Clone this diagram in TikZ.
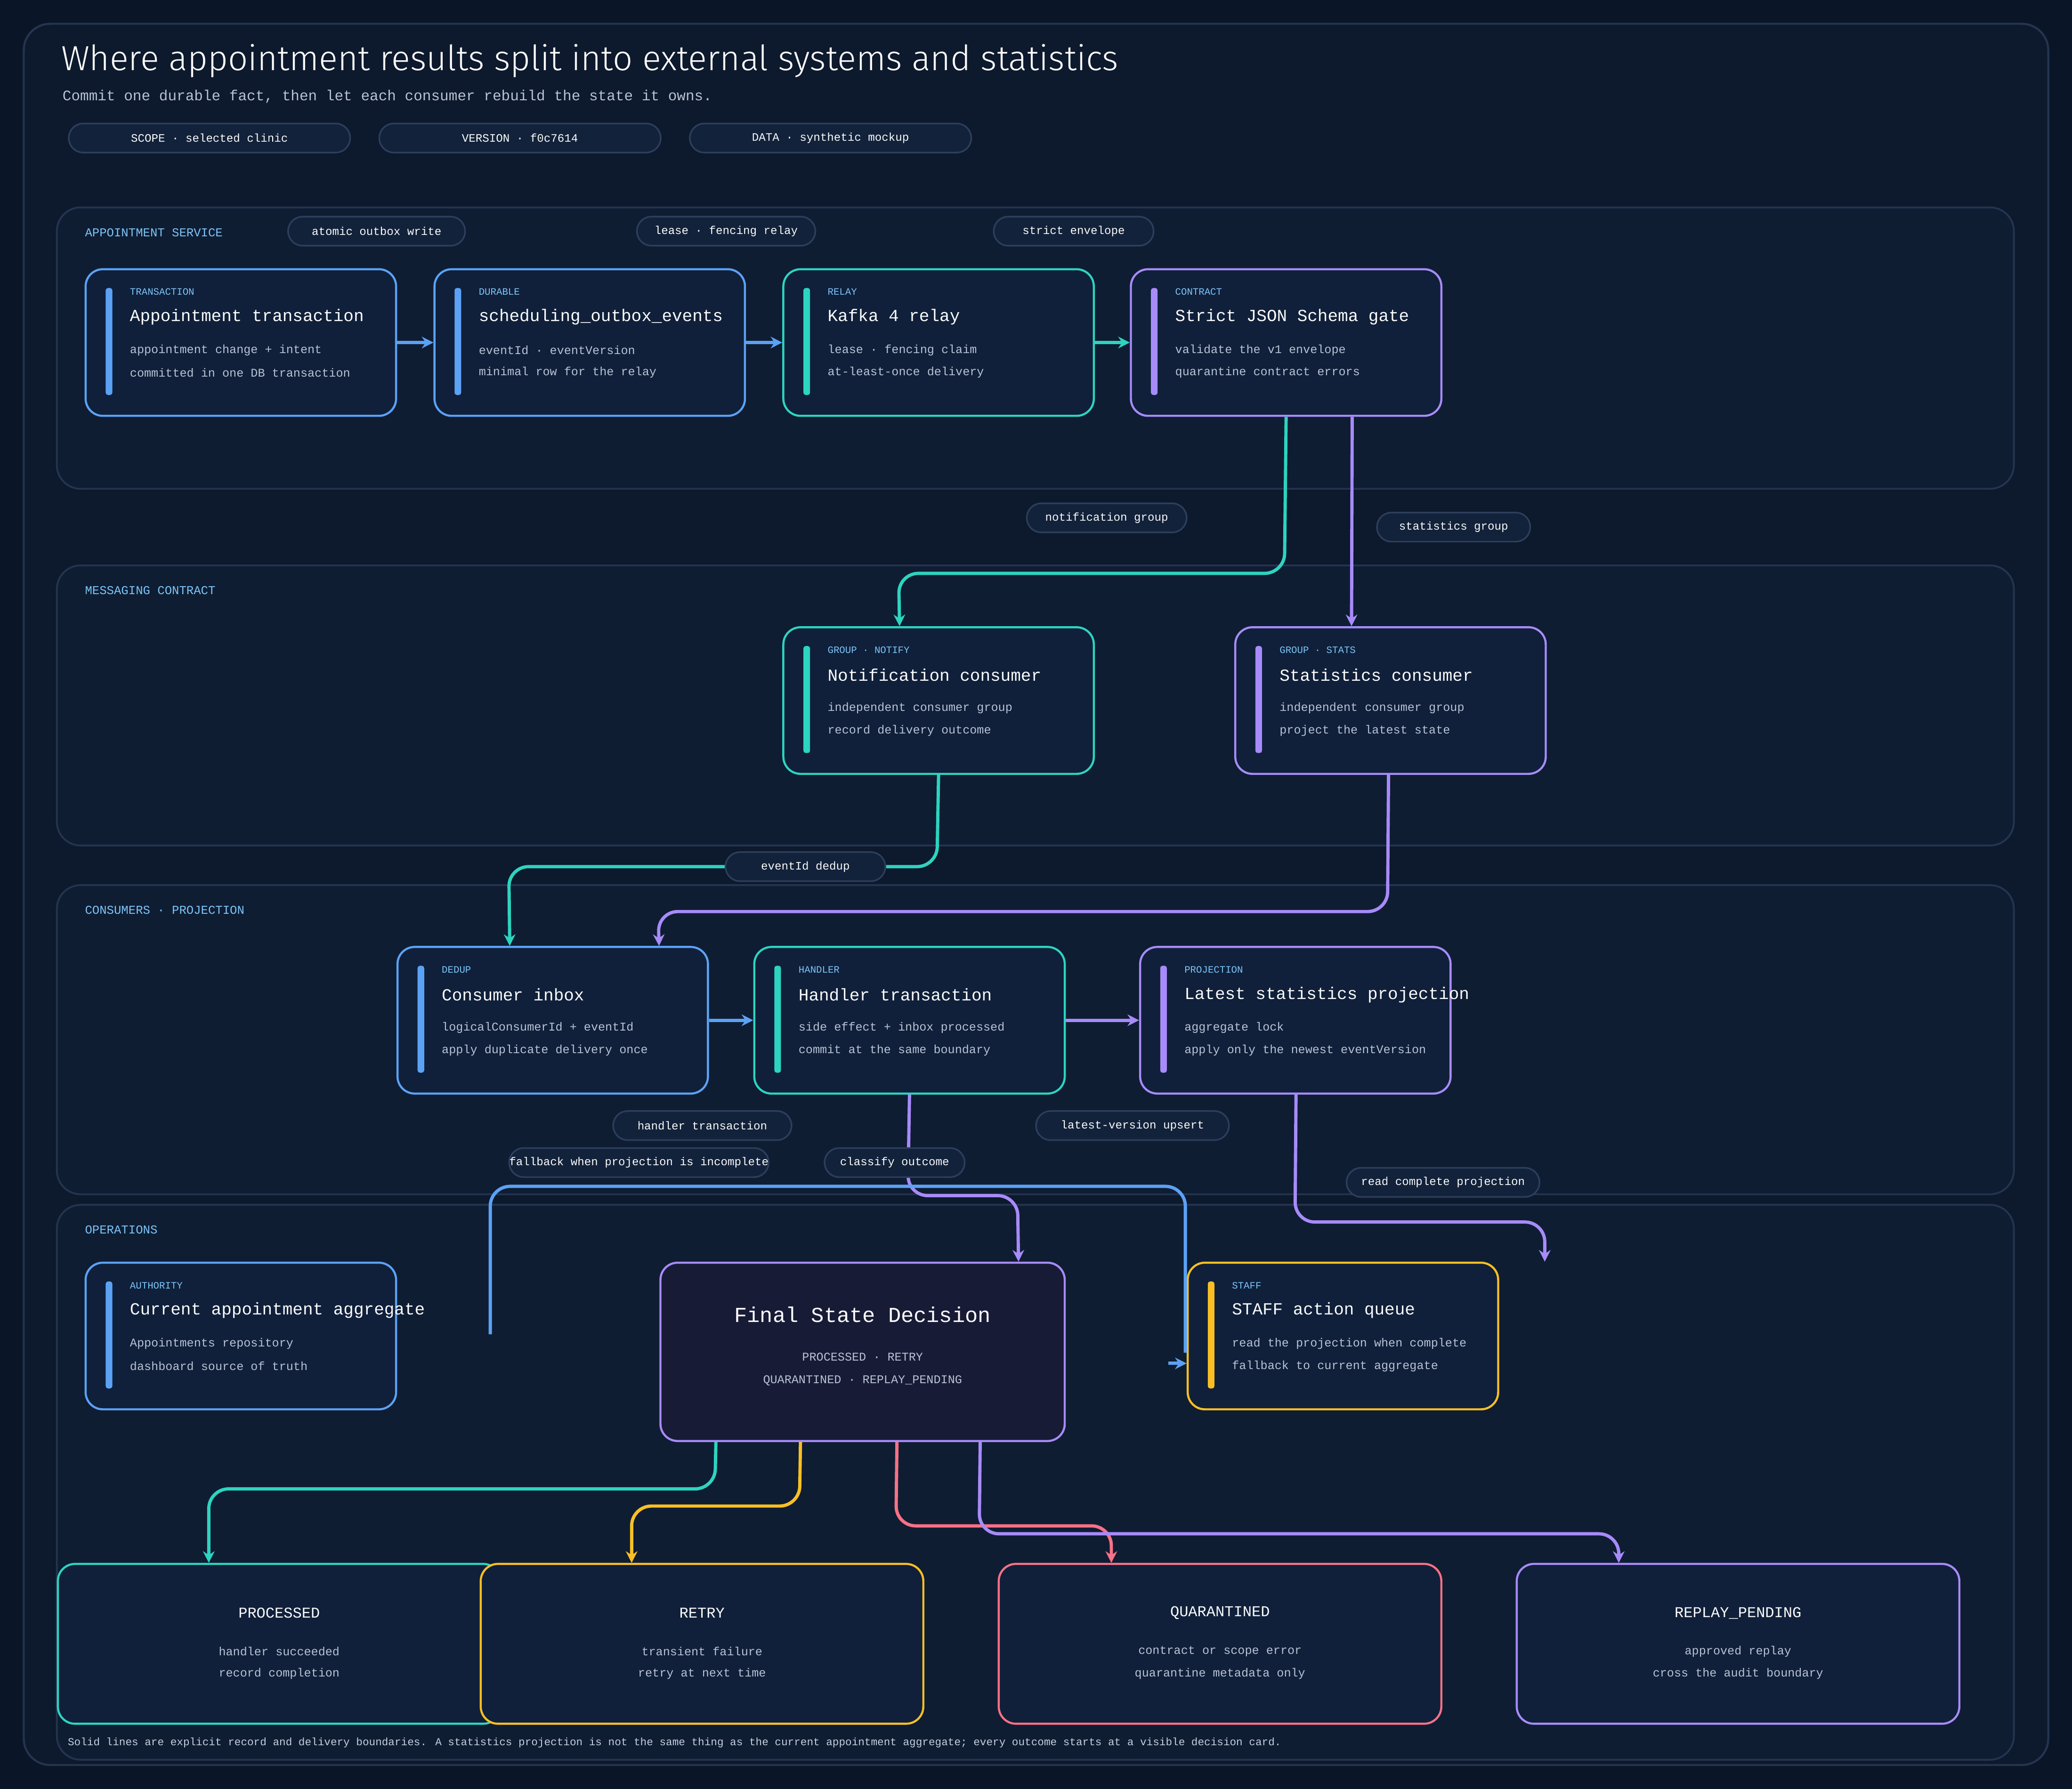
\documentclass[tikz,border=0pt]{standalone}
\usepackage{fontspec}
\setmainfont{Liberation Mono}
\newfontfamily\titlefont{Fira Sans Light}
\usetikzlibrary{arrows.meta,calc}
\definecolor{bg}{HTML}{0A1527}
\definecolor{frame}{HTML}{0D192C}
\definecolor{secfill}{HTML}{0F1D33}
\definecolor{secline}{HTML}{24344F}
\definecolor{cardfill}{HTML}{10203A}
\definecolor{pillfill}{HTML}{12223A}
\definecolor{pillline}{HTML}{2C3E5B}
\definecolor{kicker}{HTML}{7CC4FA}
\definecolor{body}{HTML}{B8C2D4}
\definecolor{cblue}{HTML}{5BA2F5}
\definecolor{cteal}{HTML}{2DD4BF}
\definecolor{cpurple}{HTML}{A78BFA}
\definecolor{cyellow}{HTML}{FBBF24}
\definecolor{cred}{HTML}{FB7185}
\definecolor{finalfill}{HTML}{181B36}
\tikzset{
 sec/.style={draw=secline,fill=secfill,line width=0.8pt,rounded corners=0.36cm,anchor=north west,inner sep=0},
 seclab/.style={text=kicker,font=\fontsize{5.2}{6}\selectfont,anchor=west,inner sep=0},
 card/.style={fill=cardfill,line width=0.9pt,rounded corners=0.26cm,minimum width=4.7cm,minimum height=2.22cm,inner sep=0},
 kick/.style={text=kicker,font=\fontsize{4.2}{5}\selectfont,anchor=west,inner sep=0},
 ctitle/.style={text=white,font=\fontsize{7.3}{9}\selectfont,anchor=west,inner sep=0},
 cbody/.style={text=body,font=\fontsize{5.1}{6}\selectfont,anchor=west,inner sep=0},
 pill/.style={draw=pillline,fill=pillfill,line width=0.7pt,rounded corners=0.22cm,minimum height=0.44cm,inner sep=0,text=white,font=\fontsize{4.9}{6}\selectfont},
 conn/.style={line width=1.4pt,rounded corners=0.3cm,-{Stealth[length=5pt,width=5pt]}},
}
\newcommand\mycard[8]{%
 \node[card,draw=#4,anchor=north west] (#1) at (#2,#3) {};
 \fill[#4,rounded corners=1pt] ($(#1.north west)+(16,15)$) rectangle ++(5,81);
 \node[kick] at ($(#1.north west)+(34,18)$) {#5};
 \node[ctitle] at ($(#1.north west)+(34,37)$) {#6};
 \node[cbody] at ($(#1.north west)+(34,62)$) {#7};
 \node[cbody] at ($(#1.north west)+(34,79)$) {#8};}
\newcommand\outcome[7]{%
 \node[card,draw=#4,anchor=north west,minimum width=6.7cm,minimum height=2.42cm] (#1) at (#2,#3) {};
 \node[text=white,font=\fontsize{6.5}{8}\selectfont,inner sep=0] at ($(#1.north)+(0,38)$) {#5};
 \node[text=body,font=\fontsize{5.1}{6}\selectfont,inner sep=0] at ($(#1.north)+(0,67)$) {#6};
 \node[text=body,font=\fontsize{5.1}{6}\selectfont,inner sep=0] at ($(#1.north)+(0,84)$) {#7};}
\begin{document}
\begin{tikzpicture}[x=0.02cm,y=-0.02cm]
\fill[bg] (0,0) rectangle (1568,1354);
\useasboundingbox (0,0) rectangle (1568,1354);
\draw[secline,fill=frame,line width=0.9pt,rounded corners=0.4cm] (18,18) rectangle (1550,1336);
\node[text=white,font=\titlefont\fontsize{15}{16}\selectfont,anchor=west,inner sep=0] (title) at (46,46) {Where appointment results split into external systems and statistics};
\node[text=body,font=\fontsize{6.3}{8}\selectfont,anchor=west,inner sep=0] (sub) at (47,73) {Commit one durable fact, then let each consumer rebuild the state it owns.};
\node[pill,minimum width=4.26cm] (p1) at (158.5,104.5) {SCOPE · selected clinic};
\node[pill,minimum width=4.26cm] (p2) at (393.5,104.5) {VERSION · f0c7614};
\node[pill,minimum width=4.26cm] (p3) at (628.5,104.5) {DATA · synthetic mockup};
% sections
\draw[sec] (43,157) rectangle (1524,370);
\draw[sec] (43,428) rectangle (1524,640);
\draw[sec] (43,670) rectangle (1524,904);
\draw[sec] (43,912) rectangle (1524,1332);
\node[seclab] (s1) at (64,176) {APPOINTMENT SERVICE};
\node[seclab] (s2) at (64,447) {MESSAGING CONTRACT};
\node[seclab] (s3) at (64,689) {CONSUMERS · PROJECTION};
\node[seclab] (s4) at (64,931) {OPERATIONS};
% cards
\mycard{a1}{64}{203}{cblue}{TRANSACTION}{Appointment transaction}{appointment change + intent}{committed in one DB transaction}
\mycard{a2}{328}{203}{cblue}{DURABLE}{scheduling\_outbox\_events}{eventId · eventVersion}{minimal row for the relay}
\mycard{a3}{592}{203}{cteal}{RELAY}{Kafka 4 relay}{lease · fencing claim}{at-least-once delivery}
\mycard{a4}{855}{203}{cpurple}{CONTRACT}{Strict JSON Schema gate}{validate the v1 envelope}{quarantine contract errors}
\mycard{n}{592}{474}{cteal}{GROUP · NOTIFY}{Notification consumer}{independent consumer group}{record delivery outcome}
\mycard{s}{934}{474}{cpurple}{GROUP · STATS}{Statistics consumer}{independent consumer group}{project the latest state}
\mycard{c1}{300}{716}{cblue}{DEDUP}{Consumer inbox}{logicalConsumerId + eventId}{apply duplicate delivery once}
\mycard{c2}{570}{716}{cteal}{HANDLER}{Handler transaction}{side effect + inbox processed}{commit at the same boundary}
\mycard{c3}{862}{716}{cpurple}{PROJECTION}{Latest statistics projection}{aggregate lock}{apply only the newest eventVersion}
\mycard{o1}{64}{955}{cblue}{AUTHORITY}{Current appointment aggregate}{Appointments repository}{dashboard source of truth}
\mycard{st}{898}{955}{cyellow}{STAFF}{STAFF action queue}{read the projection when complete}{fallback to current aggregate}
\node[draw=cpurple,fill=finalfill,line width=0.9pt,rounded corners=0.26cm,minimum width=6.12cm,minimum height=2.7cm,anchor=north west,inner sep=0] (f) at (499,955) {};
\node[text=white,font=\fontsize{9.2}{11}\selectfont,inner sep=0] at ($(f.north)+(0,40)$) {Final State Decision};
\node[text=body,font=\fontsize{5.1}{6}\selectfont,inner sep=0] at ($(f.north)+(0,72)$) {PROCESSED · RETRY};
\node[text=body,font=\fontsize{5.1}{6}\selectfont,inner sep=0] at ($(f.north)+(0,90)$) {QUARANTINED · REPLAY\_PENDING};
% connectors
\draw[conn,cblue] (a1.east) -- (a2.west);
\draw[conn,cblue] (a2.east) -- (a3.west);
\draw[conn,cteal] (a3.east) -- (a4.west);
\draw[conn,cteal] (a4.south) -- (972,434) -- (680,434) -- ($(n.north)+(-29.5,0)$);
\draw[conn,cpurple] ($(a4.south)+(50,0)$) -- ($(s.north)+(-29.5,0)$);
\draw[conn,cteal] (n.south) -- (709,656) -- (385,656) -- ($(c1.north)+(-32.5,0)$);
\draw[conn,cpurple] ($(s.south)+(-1.5,0)$) -- (1050,690) -- (498,690) -- ($(c1.north)+(80.5,0)$);
\draw[conn,cblue] (c1.east) -- (c2.west);
\draw[conn,cpurple] (c2.east) -- (c3.west);
\draw[conn,cpurple] (c2.south) -- (687,905) -- (770,905) -- ($(f.north)+(118,0)$);
\coordinate (fbstart) at (371,1010);
\draw[line width=1.4pt,cblue,rounded corners=0.3cm] (fbstart) -- (371,898) -- (897,898) -- (897,1024);
\draw[line width=1.4pt,cblue,-{Stealth[length=5pt,width=5pt]}] (884,1032) -- (st.west |- 0,1032);
\coordinate (rdend) at (1169,955);
\draw[conn,cpurple] ($(c3.south)+(0.5,0)$) -- (980,925) -- (1169,925) -- (rdend);
\outcome{po}{43}{1183}{cteal}{PROCESSED}{handler succeeded}{record completion}
\outcome{ro}{363}{1183}{cyellow}{RETRY}{transient failure}{retry at next time}
\outcome{qo}{755}{1183}{cred}{QUARANTINED}{contract or scope error}{quarantine metadata only}
\outcome{rp}{1147}{1183}{cpurple}{REPLAY\_PENDING}{approved replay}{cross the audit boundary}
\draw[conn,cteal] ($(f.south)+(-111,0)$) -- (541,1127) -- (158,1127) -- (po.north -| 158,0);
\draw[conn,cyellow] ($(f.south)+(-47,0)$) -- (605,1140) -- (478,1140) -- (ro.north -| 478,0);
\draw[conn,cred] ($(f.south)+(26,0)$) -- (678,1155) -- (841,1155) -- (qo.north -| 841,0);
\draw[conn,cpurple] ($(f.south)+(89,0)$) -- (741,1161) -- (1225,1161) -- (rp.north -| 1225,0);
% edge labels
\node[pill,minimum width=2.68cm] (l1) at (285,175) {atomic outbox write};
\node[pill,minimum width=2.7cm] (l2) at (549.5,175) {lease · fencing relay};
\node[pill,minimum width=2.42cm] (l3) at (812.5,175) {strict envelope};
\node[pill,minimum width=2.42cm] (l4) at (837.5,392) {notification group};
\node[pill,minimum width=2.32cm] (l5) at (1100,399) {statistics group};
\node[pill,minimum width=2.42cm] (l6) at (609.5,656) {eventId dedup};
\node[pill,minimum width=2.7cm] (l7) at (531.5,852) {handler transaction};
\node[pill,minimum width=2.92cm] (l8) at (857,852) {latest-version upsert};
\node[pill,minimum width=3.9cm] (l9) at (483.5,880) {fallback when projection is incomplete};
\node[pill,minimum width=2.12cm] (l10) at (677,880) {classify outcome};
\node[pill,minimum width=2.92cm] (l11) at (1092,895) {read complete projection};
\node[text=body!80,font=\fontsize{4.6}{6}\selectfont,anchor=west,inner sep=0] (foot) at (51,1319) {Solid lines are explicit record and delivery boundaries. A statistics projection is not the same thing as the current appointment aggregate; every outcome starts at a visible decision card.};
\end{tikzpicture}
\end{document}
